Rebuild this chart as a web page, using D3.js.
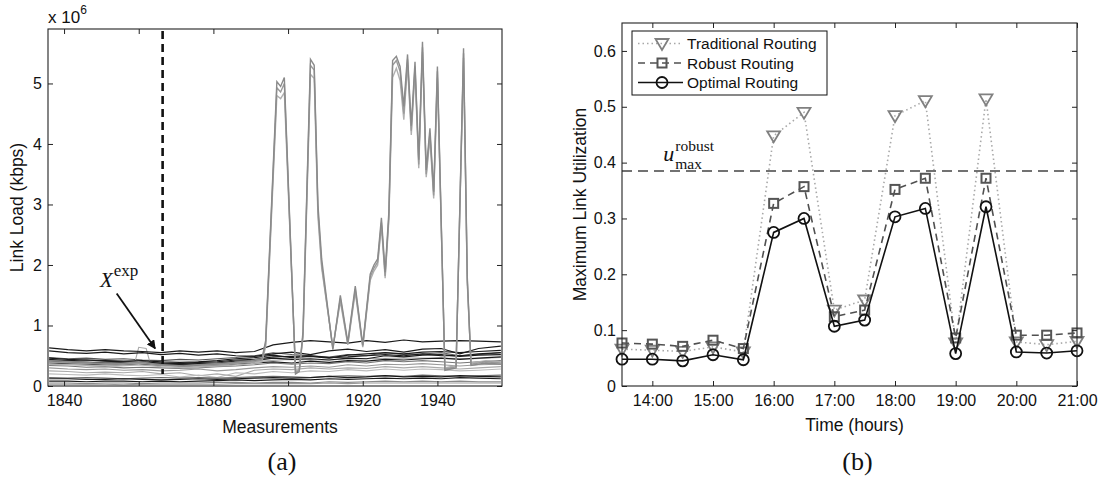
<!DOCTYPE html>
<html>
<head>
<meta charset="utf-8">
<script src="https://cdn.jsdelivr.net/npm/d3@7"></script>
<style>
body { margin: 0; background: #fff; }
text { font-family: "Liberation Sans", Arial, sans-serif; fill: #111; }
.axis .tick text { font-size: 16px; fill: #111; }
.axis path.domain { display: none; }
.axis line { stroke: #222; stroke-width: 1; }
.label { font-size: 17.5px; }
.tex { font-family: "Liberation Serif", "Times New Roman", serif; }
</style>
</head>
<body>
<svg id="chart" width="1099" height="486"></svg>
<script>
// ---------- panel (a): link loads, values in 10^6 kbps ----------
var measLim = [1835.7, 1957.3];
var loadLim = [0, 5.9];
var measTicks = [1840, 1860, 1880, 1900, 1920, 1940];
var loadTicks = [0, 1, 2, 3, 4, 5];

var measX = [1836,1841,1846,1851,1856,1861,1866,1871,1876,1881,1886,1891,1896,1901,1906,1911,1916,1921,1926,1931,1936,1941,1946,1951,1957];

var darkLoads = [
  [0.63,0.60,0.58,0.60,0.58,0.57,0.55,0.58,0.56,0.58,0.55,0.57,0.68,0.72,0.75,0.73,0.71,0.75,0.72,0.76,0.73,0.74,0.75,0.74,0.73],
  [0.58,0.55,0.54,0.56,0.53,0.55,0.52,0.54,0.51,0.53,0.50,0.49,0.53,0.56,0.52,0.58,0.61,0.57,0.60,0.56,0.61,0.62,0.53,0.62,0.66],
  [0.46,0.44,0.43,0.42,0.41,0.42,0.40,0.39,0.40,0.42,0.45,0.47,0.51,0.47,0.49,0.46,0.51,0.53,0.55,0.53,0.56,0.57,0.55,0.57,0.59],
  [0.41,0.40,0.39,0.38,0.38,0.37,0.36,0.36,0.37,0.38,0.41,0.42,0.46,0.44,0.45,0.43,0.46,0.45,0.50,0.48,0.51,0.52,0.49,0.51,0.52],
  [0.38,0.37,0.36,0.35,0.35,0.36,0.34,0.35,0.34,0.35,0.36,0.38,0.40,0.38,0.41,0.39,0.42,0.41,0.44,0.43,0.45,0.46,0.44,0.46,0.48],
  [0.44,0.42,0.43,0.41,0.40,0.40,0.38,0.37,0.39,0.40,0.43,0.44,0.48,0.49,0.50,0.47,0.48,0.50,0.52,0.50,0.53,0.50,0.50,0.53,0.55],
  [0.12,0.12,0.11,0.11,0.12,0.11,0.10,0.11,0.12,0.11,0.12,0.13,0.14,0.13,0.14,0.16,0.14,0.15,0.17,0.15,0.16,0.15,0.17,0.16,0.15],
  [0.08,0.08,0.07,0.08,0.08,0.07,0.08,0.07,0.08,0.09,0.10,0.09,0.10,0.11,0.10,0.12,0.11,0.12,0.13,0.12,0.13,0.12,0.14,0.13,0.12]
];

var greyLoads = [
  [0.47,0.45,0.46,0.44,0.45,0.43,0.42,0.44,0.43,0.45,0.47,0.50,0.55,0.52,0.50,0.48,0.52,0.50,0.55,0.52,0.53,0.55,0.50,0.52,0.55],
  [0.34,0.33,0.31,0.32,0.30,0.31,0.30,0.29,0.30,0.32,0.33,0.35,0.38,0.36,0.38,0.37,0.40,0.38,0.42,0.40,0.42,0.40,0.38,0.40,0.42],
  [0.30,0.28,0.27,0.28,0.26,0.27,0.25,0.26,0.28,0.25,0.27,0.30,0.32,0.31,0.33,0.31,0.35,0.33,0.36,0.35,0.37,0.35,0.33,0.35,0.36],
  [0.25,0.24,0.22,0.23,0.22,0.24,0.20,0.22,0.17,0.20,0.16,0.26,0.28,0.27,0.30,0.28,0.30,0.29,0.32,0.30,0.32,0.30,0.28,0.30,0.32],
  [0.20,0.19,0.18,0.20,0.18,0.17,0.19,0.15,0.18,0.14,0.22,0.20,0.24,0.22,0.25,0.24,0.27,0.25,0.28,0.26,0.28,0.27,0.25,0.26,0.28],
  [0.14,0.13,0.14,0.13,0.12,0.13,0.14,0.13,0.14,0.13,0.14,0.15,0.16,0.15,0.14,0.16,0.17,0.16,0.17,0.16,0.18,0.17,0.16,0.17,0.18],
  [0.05,0.05,0.04,0.05,0.05,0.04,0.05,0.05,0.05,0.06,0.06,0.05,0.06,0.06,0.05,0.07,0.06,0.07,0.08,0.07,0.08,0.07,0.08,0.07,0.07],
  [0.03,0.03,0.03,0.03,0.02,0.03,0.03,0.03,0.03,0.03,0.04,0.04,0.04,0.04,0.04,0.05,0.04,0.05,0.05,0.05,0.05,0.05,0.05,0.05,0.05]
];
var greyShades = ['#555','#777','#999','#aaa','#bbb','#666','#888','#999'];

// grey link with the small bump just before X^exp
var bumpX = [1836,1845,1855,1859,1860,1862,1863,1870,1880,1890,1900,1910,1920,1930,1940,1950,1957];
var bumpLoad = [0.42,0.40,0.39,0.40,0.64,0.62,0.39,0.36,0.37,0.40,0.44,0.43,0.45,0.46,0.46,0.45,0.47];

// the three links that get hit by the anomalies
var spikeX = [1836,1842,1848,1854,1860,1866,1872,1878,1884,1890,
  1893,1894,1897,1898,1899,1902,1903,1904,1906,1907,
  1908,1909,1912,1914,1916,1918,1920,1922,1923,1924,
  1925,1926,1927,1928,1929,1930,1931,1932,1933,1934,
  1935,1936,1937,1938,1939,1940,1942,1945,1947,1948,
  1949,1953,1957];
var spikeA = [0.42,0.40,0.38,0.36,0.40,0.35,0.33,0.36,0.38,0.42,
  0.45,0.75,5.03,4.95,5.10,0.20,0.24,0.90,5.40,5.30,
  3.00,2.10,0.60,1.50,0.72,1.65,0.68,1.85,2.00,2.10,
  2.78,1.88,2.88,5.38,5.45,5.28,4.62,5.48,4.30,5.36,
  3.74,5.69,3.57,4.26,3.21,5.28,0.26,0.30,5.58,1.80,
  0.34,0.38,0.36];
var spikeB = [0.40,0.38,0.37,0.35,0.38,0.34,0.32,0.34,0.36,0.40,
  0.43,0.70,4.93,4.86,5.00,0.22,0.26,0.85,5.30,5.22,
  2.90,2.00,0.62,1.45,0.70,1.60,0.66,1.80,1.95,2.05,
  2.70,1.82,2.80,5.30,5.38,5.20,4.50,5.40,4.22,5.28,
  3.66,5.60,3.50,4.18,3.15,5.20,0.28,0.32,5.50,1.75,
  0.36,0.40,0.38];
var spikeC = [0.36,0.35,0.34,0.33,0.35,0.32,0.30,0.32,0.34,0.37,
  0.40,0.65,4.80,4.75,4.85,0.24,0.28,0.80,5.15,5.08,
  2.80,1.95,0.64,1.40,0.68,1.55,0.64,1.75,1.90,2.00,
  2.65,1.78,2.75,5.10,5.25,5.05,4.40,5.30,4.15,5.20,
  3.60,5.52,3.45,4.10,3.10,5.10,0.30,0.34,5.42,1.70,
  0.38,0.42,0.40];

var expMeas = 1866.4;          // dashed line, end of the X^exp window
var expLineBottom = 0.2;
var arrowFrom = [1854.1, 1.53], arrowTo = [1864.4, 0.62];
var expLabelAt = [1849.6, 1.64];

// ---------- panel (b): maximum link utilization ----------
var hourLim = [13.5, 21];
var utilLim = [0, 0.65];
var hourTicks = [14, 15, 16, 17, 18, 19, 20, 21];
var hourLabels = ['14:00','15:00','16:00','17:00','18:00','19:00','20:00','21:00'];
var utilTicks = [0, 0.1, 0.2, 0.3, 0.4, 0.5, 0.6];

var hours = [13.5,14,14.5,15,15.5,16,16.5,17,17.5,18,18.5,19,19.5,20,20.5,21];
var traditional = [0.066,0.064,0.062,0.070,0.061,0.448,0.490,0.136,0.154,0.484,0.511,0.077,0.514,0.079,0.074,0.080];
var robust      = [0.077,0.075,0.071,0.082,0.067,0.327,0.357,0.124,0.136,0.352,0.372,0.086,0.372,0.091,0.091,0.095];
var optimal     = [0.048,0.048,0.045,0.056,0.047,0.275,0.300,0.107,0.118,0.303,0.318,0.058,0.321,0.061,0.059,0.063];
var seriesNames = ['Traditional Routing', 'Robust Routing', 'Optimal Routing'];
var uMaxRobust = 0.385;
var uLabelAt = [14.18, 0.402];

// ---------- layout ----------
var svg = d3.select('#chart');
var boxA = {left: 48, right: 502, top: 29, bottom: 386};
var boxB = {left: 622, right: 1077, top: 23, bottom: 386};

var xA = d3.scaleLinear().domain(measLim).range([boxA.left, boxA.right]),
    yA = d3.scaleLinear().domain(loadLim).range([boxA.bottom, boxA.top]);
var xB = d3.scaleLinear().domain(hourLim).range([boxB.left, boxB.right]),
    yB = d3.scaleLinear().domain(utilLim).range([boxB.bottom, boxB.top]);

var defs = svg.append('defs');
defs.append('clipPath').attr('id', 'clipA').append('rect')
    .attr('x', boxA.left).attr('y', boxA.top)
    .attr('width', boxA.right - boxA.left).attr('height', boxA.bottom - boxA.top);
defs.append('marker')
    .attr('id', 'arrowhead').attr('viewBox', '0 0 10 10')
    .attr('refX', 9).attr('refY', 5)
    .attr('markerWidth', 5).attr('markerHeight', 5)
    .attr('orient', 'auto')
  .append('path').attr('d', 'M0,0L10,5L0,10z').attr('fill', '#111');

function drawAxes(box, x, y, xTicks, xFmt, yTicks, yFmt) {
	svg.append('g').attr('class', 'axis')
		.attr('transform', 'translate(0,' + box.bottom + ')')
		.call(d3.axisBottom(x).tickValues(xTicks).tickFormat(xFmt)
			.tickSizeInner(-5).tickSizeOuter(0).tickPadding(9));
	svg.append('g').attr('class', 'axis')
		.attr('transform', 'translate(0,' + box.top + ')')
		.call(d3.axisTop(x).tickValues(xTicks).tickFormat('')
			.tickSizeInner(-5).tickSizeOuter(0));
	svg.append('g').attr('class', 'axis')
		.attr('transform', 'translate(' + box.left + ',0)')
		.call(d3.axisLeft(y).tickValues(yTicks).tickFormat(yFmt)
			.tickSizeInner(-5).tickSizeOuter(0).tickPadding(6));
	svg.append('g').attr('class', 'axis')
		.attr('transform', 'translate(' + box.right + ',0)')
		.call(d3.axisRight(y).tickValues(yTicks).tickFormat('')
			.tickSizeInner(-5).tickSizeOuter(0));
}

// ---------- panel (a) ----------
var gA = svg.append('g').attr('clip-path', 'url(#clipA)');

function loadLine(xs) {
	return d3.line().x(function(d, i) { return xA(xs[i]); }).y(function(d) { return yA(d); });
}

gA.selectAll('.grey-link').data(greyLoads).enter().append('path')
	.attr('class', 'grey-link')
	.attr('d', loadLine(measX))
	.attr('fill', 'none')
	.attr('stroke', function(d, i) { return greyShades[i]; })
	.attr('stroke-width', 1.1);

gA.append('path').attr('d', loadLine(bumpX)(bumpLoad))
	.attr('fill', 'none').attr('stroke', '#aaa').attr('stroke-width', 1.1);

gA.selectAll('.dark-link').data(darkLoads).enter().append('path')
	.attr('class', 'dark-link')
	.attr('d', loadLine(measX))
	.attr('fill', 'none')
	.attr('stroke', '#1a1a1a')
	.attr('stroke-width', 1.2);

var spikeShades = ['#8a8a8a', '#9a9a9a', '#b0b0b0'];
gA.selectAll('.spike-link').data([spikeC, spikeB, spikeA]).enter().append('path')
	.attr('class', 'spike-link')
	.attr('d', loadLine(spikeX))
	.attr('fill', 'none')
	.attr('stroke', function(d, i) { return spikeShades[2 - i]; })
	.attr('stroke-width', 1.4)
	.attr('stroke-linejoin', 'miter');

// X^exp marker line and arrow
svg.append('line')
	.attr('x1', xA(expMeas)).attr('x2', xA(expMeas))
	.attr('y1', yA(loadLim[1]) + 2).attr('y2', yA(expLineBottom))
	.attr('stroke', '#111').attr('stroke-width', 2.6)
	.attr('stroke-dasharray', '8,5');

svg.append('line')
	.attr('x1', xA(arrowFrom[0])).attr('y1', yA(arrowFrom[1]))
	.attr('x2', xA(arrowTo[0])).attr('y2', yA(arrowTo[1]))
	.attr('stroke', '#111').attr('stroke-width', 1.8)
	.attr('marker-end', 'url(#arrowhead)');

var expText = svg.append('text').attr('class', 'tex')
	.attr('x', xA(expLabelAt[0])).attr('y', yA(expLabelAt[1]))
	.style('font-size', '21px');
expText.append('tspan').style('font-style', 'italic').text('X');
expText.append('tspan').attr('dx', 1).attr('dy', -11).style('font-size', '17px').text('exp');

drawAxes(boxA, xA, yA, measTicks, d3.format('d'), loadTicks, d3.format('d'));
svg.append('rect')
	.attr('x', boxA.left).attr('y', boxA.top)
	.attr('width', boxA.right - boxA.left).attr('height', boxA.bottom - boxA.top)
	.attr('fill', 'none').attr('stroke', '#222').attr('stroke-width', 1.1);

var mult = svg.append('text').attr('x', boxA.left).attr('y', boxA.top - 6)
	.style('font-size', '17px');
mult.append('tspan').text('x 10');
mult.append('tspan').attr('dy', -9).style('font-size', '12px').text('6');

svg.append('text').attr('class', 'label')
	.attr('transform', 'translate(' + (boxA.left - 25) + ',' + ((boxA.top + boxA.bottom) / 2) + ') rotate(-90)')
	.attr('text-anchor', 'middle')
	.text('Link Load (kbps)');

svg.append('text').attr('class', 'label')
	.attr('x', (boxA.left + boxA.right) / 2 + 5).attr('y', boxA.bottom + 47)
	.attr('text-anchor', 'middle')
	.text('Measurements');

svg.append('text').attr('class', 'tex')
	.attr('x', (boxA.left + boxA.right) / 2 + 7).attr('y', 470)
	.attr('text-anchor', 'middle').style('font-size', '26px')
	.text('(a)');

// ---------- panel (b) ----------
var gB = svg.append('g');

var utilLine = d3.line()
	.x(function(d, i) { return xB(hours[i]); })
	.y(function(d) { return yB(d); });

svg.append('line')
	.attr('x1', boxB.left).attr('x2', boxB.right)
	.attr('y1', yB(uMaxRobust)).attr('y2', yB(uMaxRobust))
	.attr('stroke', '#444').attr('stroke-width', 1.3)
	.attr('stroke-dasharray', '10,6');

var lineStyles = [
	{stroke: '#a8a8a8', dash: '1.5,3', width: 1.6},
	{stroke: '#505050', dash: '7,5', width: 1.6},
	{stroke: '#111', dash: null, width: 1.6}
];
var markerColours = ['#808080', '#555', '#111'];

function drawMarker(sel, k) {
	if (k === 0) {
		sel.append('path').attr('d', 'M-6.5,-4.5L6.5,-4.5L0,6.5Z')
			.attr('fill', 'none').attr('stroke', markerColours[0]).attr('stroke-width', 1.8);
	} else if (k === 1) {
		sel.append('rect').attr('x', -4.5).attr('y', -4.5).attr('width', 9).attr('height', 9)
			.attr('fill', 'none').attr('stroke', markerColours[1]).attr('stroke-width', 2);
	} else {
		sel.append('circle').attr('r', 5.5)
			.attr('fill', 'none').attr('stroke', markerColours[2]).attr('stroke-width', 1.8);
	}
}

[traditional, robust, optimal].forEach(function(values, k) {
	gB.append('path').attr('d', utilLine(values))
		.attr('fill', 'none')
		.attr('stroke', lineStyles[k].stroke)
		.attr('stroke-width', lineStyles[k].width)
		.attr('stroke-dasharray', lineStyles[k].dash);
	gB.selectAll('.mk' + k).data(values).enter().append('g')
		.attr('class', 'mk' + k)
		.attr('transform', function(d, i) { return 'translate(' + xB(hours[i]) + ',' + yB(d) + ')'; })
		.each(function() { drawMarker(d3.select(this), k); });
});

drawAxes(boxB, xB, yB, hourTicks, function(d, i) { return hourLabels[i]; }, utilTicks, function(d) { return d === 0 ? '0' : d3.format('.1f')(d); });
svg.append('rect')
	.attr('x', boxB.left).attr('y', boxB.top)
	.attr('width', boxB.right - boxB.left).attr('height', boxB.bottom - boxB.top)
	.attr('fill', 'none').attr('stroke', '#222').attr('stroke-width', 1.1);

// u_max^robust label: italic u with stacked super/subscript
var uX = xB(uLabelAt[0]), uY = yB(uLabelAt[1]);
svg.append('text').attr('class', 'tex').attr('x', uX).attr('y', uY)
	.style('font-size', '22px').style('font-style', 'italic').text('u');
svg.append('text').attr('class', 'tex').attr('x', uX + 12).attr('y', uY - 10)
	.style('font-size', '15.5px').text('robust');
svg.append('text').attr('class', 'tex').attr('x', uX + 12).attr('y', uY + 8)
	.style('font-size', '15.5px').text('max');

// legend
var leg = svg.append('g').attr('transform', 'translate(' + (boxB.left + 10) + ',' + (boxB.top + 8) + ')');
leg.append('rect').attr('width', 195).attr('height', 64)
	.attr('fill', '#fff').attr('stroke', '#111').attr('stroke-width', 1);
seriesNames.forEach(function(name, k) {
	var row = leg.append('g').attr('transform', 'translate(0,' + (12.5 + k * 19.5) + ')');
	row.append('line').attr('x1', 6).attr('x2', 51)
		.attr('stroke', lineStyles[k].stroke)
		.attr('stroke-width', lineStyles[k].width)
		.attr('stroke-dasharray', lineStyles[k].dash);
	drawMarker(row.append('g').attr('transform', 'translate(30,0)'), k);
	row.append('text').attr('x', 55).attr('y', 5.5)
		.style('font-size', '15.5px').text(name);
});

svg.append('text').attr('class', 'label')
	.attr('transform', 'translate(' + (boxB.left - 36) + ',' + ((boxB.top + boxB.bottom) / 2) + ') rotate(-90)')
	.attr('text-anchor', 'middle')
	.text('Maximum Link Utilization');

svg.append('text').attr('class', 'label')
	.attr('x', (boxB.left + boxB.right) / 2 + 5).attr('y', boxB.bottom + 45)
	.attr('text-anchor', 'middle')
	.text('Time (hours)');

svg.append('text').attr('class', 'tex')
	.attr('x', (boxB.left + boxB.right) / 2 + 8).attr('y', 470)
	.attr('text-anchor', 'middle').style('font-size', '26px')
	.text('(b)');
</script>
</body>
</html>
